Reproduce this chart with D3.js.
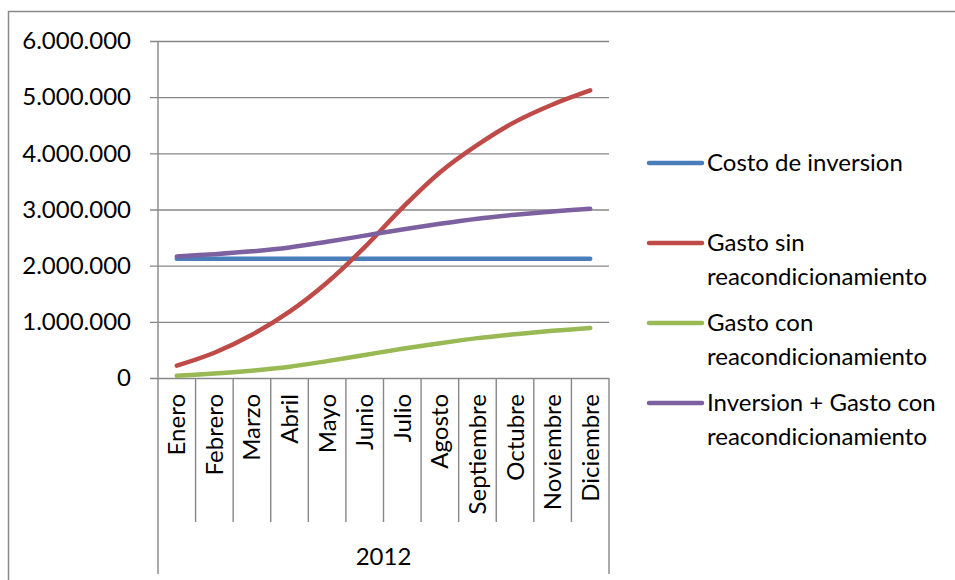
<!DOCTYPE html>
<html><head><meta charset="utf-8">
<script src="https://cdn.jsdelivr.net/npm/d3@7"></script>
<style>body{margin:0;background:#fff}svg{display:block}text{font-family:Lato,"Open Sans",sans-serif;fill:#000}</style>
</head><body>
<script>
const months = ["Enero","Febrero","Marzo","Abril","Mayo","Junio","Julio","Agosto","Septiembre","Octubre","Noviembre","Diciembre"];
const year = "2012";
const yTicks = [0,1000000,2000000,3000000,4000000,5000000,6000000];
const costoInversion = [2125000,2125000,2125000,2125000,2125000,2125000,2125000,2125000,2125000,2125000,2125000,2125000];
const gastoSin = [220000,450000,770000,1180000,1700000,2330000,3030000,3660000,4150000,4560000,4870000,5120000];
const gastoCon = [40000,80000,130000,200000,300000,410000,520000,620000,710000,780000,840000,890000];
const inversionGastoCon = [2165000,2205000,2255000,2325000,2425000,2535000,2645000,2745000,2835000,2905000,2965000,3015000];
const seriesNames = [["Costo de inversion"],["Gasto sin","reacondicionamiento"],["Gasto con","reacondicionamiento"],["Inversion + Gasto con","reacondicionamiento"]];
const seriesColors = ["#4A7EBB","#BE4B48","#98B954","#7D60A0"];
const seriesData = [costoInversion,gastoSin,gastoCon,inversionGastoCon];

const W=955,H=580;
const svg=d3.select("body").append("svg").attr("width",W).attr("height",H);
const grid="#878787";
const fs=24;
// outer border
svg.append("path").attr("d",`M8.5,${H} V11.5 H${W}`).attr("fill","none").attr("stroke",grid).attr("stroke-width",1.5);

const x0=158,x1=609,yTop=41,yBot=378;
const x=d3.scaleBand().domain(months).range([x0,x1]).padding(0);
const y=d3.scaleLinear().domain([0,6000000]).range([yBot,yTop]);
const fmt=v=>d3.format(",")(v).replace(/,/g,".");

// gridlines with ticks
const yAxis=d3.axisLeft(y).tickValues(yTicks).tickSize(-(x1-x0)).tickSizeOuter(0).tickFormat(fmt).tickPadding(27);
const ga=svg.append("g").attr("transform",`translate(${x0},0)`).call(yAxis);
ga.select(".domain").remove();
ga.selectAll(".tick line").attr("stroke",grid).attr("stroke-width",1.4).attr("x1",-8);
ga.selectAll(".tick text").attr("font-size",fs).attr("font-family","Lato,sans-serif").attr("fill","#000");

// vertical axis line
svg.append("line").attr("x1",x0).attr("x2",x0).attr("y1",yTop).attr("y2",574).attr("stroke",grid).attr("stroke-width",1.4);
svg.append("line").attr("x1",x1).attr("x2",x1).attr("y1",yBot).attr("y2",574).attr("stroke",grid).attr("stroke-width",1.4);
// category dividers
svg.selectAll(".div").data(months.slice(1)).enter().append("line")
  .attr("x1",d=>x(d)).attr("x2",d=>x(d)).attr("y1",yBot).attr("y2",522)
  .attr("stroke",grid).attr("stroke-width",1.4);

// month labels
svg.selectAll(".ml").data(months).enter().append("text")
  .attr("transform",d=>`translate(${x(d)+x.bandwidth()/2+8.5},394) rotate(-90)`)
  .attr("text-anchor","end").attr("font-size",fs).text(d=>d);
svg.append("text").attr("x",(x0+x1)/2).attr("y",565).attr("text-anchor","middle").attr("font-size",fs).text(year);

// lines
const line=d3.line().x((d,i)=>x(months[i])+x.bandwidth()/2).y(d=>y(d)).curve(d3.curveCatmullRom.alpha(0.5));
seriesData.forEach((s,k)=>{
  svg.append("path").datum(s).attr("d",line).attr("fill","none").attr("stroke",seriesColors[k])
    .attr("stroke-width",4.5).attr("stroke-linecap","round").attr("stroke-linejoin","round");
});

// legend
const legY=[163,243,323,403];
seriesNames.forEach((nm,k)=>{
  svg.append("line").attr("x1",649).attr("x2",702).attr("y1",legY[k]).attr("y2",legY[k])
    .attr("stroke",seriesColors[k]).attr("stroke-width",4.5).attr("stroke-linecap","round");
  const t=svg.append("text").attr("x",707).attr("y",legY[k]+8).attr("font-size",fs);
  nm.forEach((ln,j)=>t.append("tspan").attr("x",707).attr("dy",j?34:0).text(ln));
});
</script>
</body></html>
